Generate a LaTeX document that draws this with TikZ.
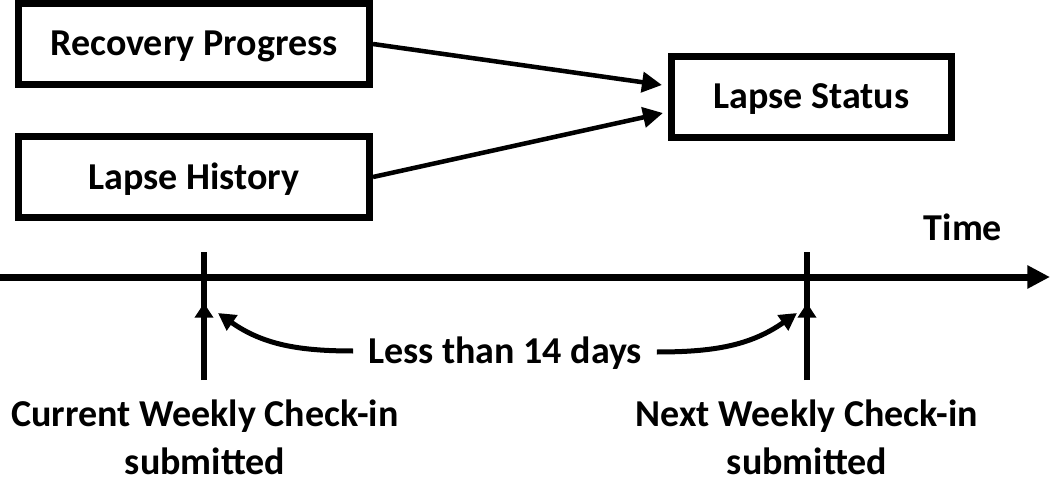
\documentclass[tikz,border=0pt]{standalone}
\usepackage{fontspec}
\setmainfont{Carlito}
\usetikzlibrary{arrows.meta}
\begin{document}
\begin{tikzpicture}[x=0.75pt,y=0.75pt,
  lbl/.style={font=\fontsize{28.5}{34}\selectfont\bfseries,inner sep=1pt},
  box/.style={lbl,draw,line width=5.25pt,minimum height=60.75pt,text height=18pt,text depth=0pt,inner sep=0pt},
  flow/.style={line width=3.4pt,-{Triangle[length=15pt,width=15pt]}},
  tick/.style={line width=4.5pt},
  tickarrow/.style={line width=4.5pt,-{Triangle[length=11pt,width=13.5pt]}},
  span/.style={line width=3.75pt,-{Triangle[length=13pt,width=13.5pt]}}]
\useasboundingbox (0,0) rectangle (1050,483);
% boxes
\node[box,minimum width=263.25pt] (rp) at (194,439) {Recovery Progress};
\node[box,minimum width=263.25pt] (lh) at (194,306) {Lapse History};
\node[box,minimum width=210pt] (ls) at (811.5,386) {Lapse Status};
\coordinate (t1) at (662,398);
\coordinate (t2) at (663,370);
\draw[flow] (rp.east) -- (t1);
\draw[flow] (lh.east) -- (t2);
% timeline
\coordinate (tl0) at (0,206);
\coordinate (tl1) at (1050,206);
\draw[line width=5.25pt,-{Triangle[length=17pt,width=16.5pt]}] (tl0) -- (tl1);
\node[lbl,anchor=base] (time) at (963,243) {Time};
% ticks
\coordinate (a0) at (204,231);
\coordinate (a1) at (204,103);
\coordinate (a2) at (204,180);
\coordinate (b0) at (807,231);
\coordinate (b1) at (807,103);
\coordinate (b2) at (807,180);
\draw[tick] (a0) -- (a1);
\draw[tick] (b0) -- (b1);
\draw[tickarrow] (a1) -- (a2);
\draw[tickarrow] (b1) -- (b2);
% span
\node[lbl,anchor=base] (less) at (505,120) {Less than 14 days};
\coordinate (c1) at (218,170);
\coordinate (c2) at (797,170);
\draw[span] ([xshift=-10pt]less.west |- 0,132) to[out=180,in=-35] (c1);
\draw[span] ([xshift=10pt]less.east |- 0,131) to[out=0,in=215] (c2);
% labels
\node[lbl,anchor=base] (cur1) at (205,57) {Current Weekly Check-in};
\node[lbl,anchor=base] (cur2) at (205,9) {submitted};
\node[lbl,anchor=base] (nxt1) at (807,57) {Next Weekly Check-in};
\node[lbl,anchor=base] (nxt2) at (807,9) {submitted};
\end{tikzpicture}
\end{document}
